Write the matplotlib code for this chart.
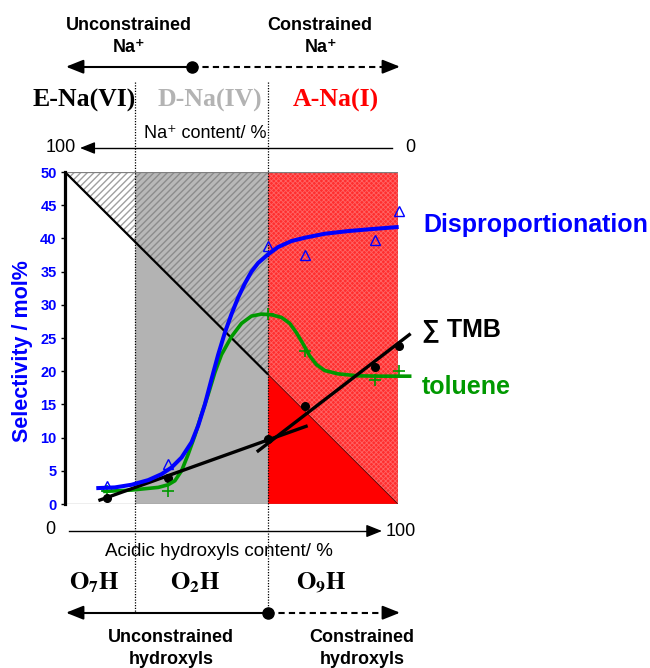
import numpy as np
import matplotlib
matplotlib.use('Agg')
import matplotlib.pyplot as plt
from matplotlib.patches import Polygon, Rectangle
from matplotlib.transforms import blended_transform_factory

plt.rcParams['mathtext.fontset'] = 'stix'

# ---------------- data ----------------
x_pts = [12.5, 31, 61, 72, 93, 100.2]
disp_pts = [2.7, 6.0, 38.8, 37.5, 39.7, 44.2]
tol_pts = [1.9, 2.0, 28.6, 23.1, 18.7, 20.0]
tmb_pts = [0.86, 3.9, 9.8, 14.7, 20.7, 23.8]

disp_curve_x = [10, 15, 20, 25, 29, 32, 35, 38, 40, 42, 44, 46, 48, 50, 52, 54, 56, 58, 61,
                64, 68, 72, 78, 85, 92, 99.6]
disp_curve_y = [2.4, 2.5, 2.9, 3.6, 4.5, 5.5, 7.0, 9.3, 11.8, 15.0, 18.8, 22.5, 25.8, 28.6,
                31.1, 33.2, 35.0, 36.3, 37.6, 38.7, 39.6, 40.1, 40.7, 41.1, 41.4, 41.7]

tol_curve_x = [12, 20, 28, 31, 33, 35, 37, 39, 41, 43, 45, 47, 50, 53, 56, 59, 62, 65, 67.5,
               69.5, 71.5, 73.5, 75.5, 78, 82, 88, 95, 103.5]
tol_curve_y = [1.9, 2.1, 2.5, 2.9, 3.5, 5.0, 7.5, 10.3, 13.5, 16.5, 19.8, 22.5, 25.2, 27.2,
               28.3, 28.6, 28.5, 28.1, 27.2, 25.8, 24.1, 22.3, 21.0, 20.1, 19.6, 19.3, 19.25, 19.25]

tmb_fit1_x = [10.5, 72.4]
tmb_fit1_y = [0.6, 11.7]
tmb_fit2_x = [58, 103.4]
tmb_fit2_y = [8.0, 25.5]

region_edges = [0, 21.1, 61, 100]
diag_x = [0, 100]
diag_y = [50, 0]
yticks = list(range(0, 51, 5))

# ---------------- figure ----------------
W, H = 650, 668
fig = plt.figure(figsize=(W / 100, H / 100), dpi=100)
ax = fig.add_axes([65 / W, (H - 504) / H, 333 / W, 332 / H])
ax.set_xlim(0, 100)
ax.set_ylim(0, 50)

sans = ['Liberation Sans', 'DejaVu Sans']
serif = ['Liberation Serif', 'DejaVu Serif']

lower_colors = ['white', '#b3b3b3', '#ff0000']
upper_face = ['white', '#b8b8b8', '#ff2e2e']
upper_hatch = ['/////', '/////', 'xxxxxxx']
upper_hcol = ['#a0a0a0', '#8c8c8c', '#ff6464']
upper_hlw = [1.0, 1.0, 0.6]

for i in range(3):
    x0, x1 = region_edges[i], region_edges[i + 1]
    y0d = np.interp(x0, diag_x, diag_y)
    y1d = np.interp(x1, diag_x, diag_y)
    low = Polygon([(x0, 0), (x1, 0), (x1, y1d), (x0, y0d)], closed=True,
                  facecolor=lower_colors[i], edgecolor='none', lw=0, zorder=1)
    ax.add_patch(low)
    up_bg = Polygon([(x0, y0d), (x1, y1d), (x1, 50), (x0, 50)], closed=True,
                    facecolor=upper_face[i], edgecolor='none', lw=0, zorder=1)
    ax.add_patch(up_bg)
    up = Polygon([(x0, y0d), (x1, y1d), (x1, 50), (x0, 50)], closed=True,
                 facecolor='none', edgecolor=upper_hcol[i], hatch=upper_hatch[i], lw=0, zorder=1.1)
    if hasattr(up, 'set_hatch_linewidth'):
        up.set_hatch_linewidth(upper_hlw[i])
    ax.add_patch(up)

# diagonal
xm = region_edges[2]
ym = np.interp(xm, diag_x, diag_y)
ax.plot([diag_x[0], xm], [diag_y[0], ym], color='k', lw=1.6, zorder=2,
        solid_capstyle='butt', clip_on=False)
ax.plot([xm, diag_x[1]], [ym, diag_y[1]], color='#500000', lw=0.6, zorder=2)

# box outline
ax.add_patch(Rectangle((0, 0), 100, 50, fill=False, ec='#7f7f7f', lw=0.9, zorder=3))

# dotted vertical separators
bt = blended_transform_factory(ax.transData, fig.transFigure)
for xe in region_edges[1:3]:
    ax.plot([xe, xe], [1 - 82 / H, 1 - 612 / H], transform=bt, color='k',
            lw=0.9, ls=(0, (1, 1.2)), clip_on=False, zorder=3)

# markers
ax.plot(x_pts, disp_pts, ls='none', marker='^', ms=6.5, mfc='none', mec='#0000ff', mew=1.0,
        clip_on=False, zorder=4)
ax.plot(x_pts, tol_pts, ls='none', marker='+', ms=8, mec='#009900', mew=1.2,
        clip_on=False, zorder=4)
ax.plot(x_pts, tmb_pts, ls='none', marker='o', ms=5.5, mfc='k', mec='k',
        clip_on=False, zorder=4)

# curves
ax.plot(disp_curve_x, disp_curve_y, color='#0000ff', lw=2.9, clip_on=False, zorder=6,
        solid_joinstyle='round')
ax.plot(tol_curve_x, tol_curve_y, color='#009900', lw=2.6, clip_on=False, zorder=5,
        solid_joinstyle='round')
ax.plot(tmb_fit1_x, tmb_fit1_y, color='k', lw=2.4, clip_on=False, zorder=5)
ax.plot(tmb_fit2_x, tmb_fit2_y, color='k', lw=2.4, clip_on=False, zorder=5)

# axes styling
for s in ['top', 'right', 'bottom']:
    ax.spines[s].set_visible(False)
ax.spines['left'].set_linewidth(2.3)
ax.spines['left'].set_color('k')
ax.spines['left'].set_zorder(7)
ax.set_xticks([])
ax.set_yticks(yticks)
ax.set_yticklabels([str(v) for v in yticks], color='#0000ff', fontweight='bold',
                   fontsize=10.5, family=sans)
ax.tick_params(axis='y', length=3, width=1, color='k', pad=3)
ax.set_facecolor('none')

# ---------------- overlay (annotations) ----------------
ov = fig.add_axes([0, 0, 1, 1], zorder=5)
ov.set_xlim(0, W)
ov.set_ylim(H, 0)
ov.axis('off')
ov.patch.set_alpha(0)


def head(x_from, x_to, y, ms=20, lw=1.5):
    ov.annotate('', xy=(x_to, y), xytext=(x_from, y),
                arrowprops=dict(arrowstyle='-|>,head_length=0.5,head_width=0.2', color='k',
                                lw=lw, mutation_scale=ms, shrinkA=0, shrinkB=0))


# top arrow
ty = 66.7
ov.plot([70, 192], [ty, ty], color='k', lw=1.5)
ov.plot([192, 390], [ty, ty], color='k', lw=1.5, ls=(0, (3, 2)))
head(80, 66, ty, ms=21)
head(386, 400, ty, ms=21)
ov.plot([192], [ty], 'o', color='k', ms=8)

# Na content axis
ny = 148
ov.plot([84, 392], [ny, ny], color='k', lw=1.0)
head(92, 80, ny, ms=18, lw=1.0)

# acidic hydroxyl axis
ay = 531
ov.plot([69, 372], [ay, ay], color='k', lw=1.0)
head(370, 382, ay, ms=19, lw=1.0)

# bottom arrow
by = 612.7
ov.plot([70, 268], [by, by], color='k', lw=1.5)
ov.plot([268, 390], [by, by], color='k', lw=1.5, ls=(0, (3, 2)))
head(80, 66, by, ms=21)
head(386, 400, by, ms=21)
ov.plot([268], [by], 'o', color='k', ms=8)

# texts
ov.text(129, 25, 'Unconstrained', ha='center', va='center', fontsize=13, fontweight='bold', family=sans)
ov.text(129, 47, 'Na\u207a', ha='center', va='center', fontsize=13, fontweight='bold', family=sans)
ov.text(320, 25, 'Constrained', ha='center', va='center', fontsize=13, fontweight='bold', family=sans)
ov.text(321, 47, 'Na\u207a', ha='center', va='center', fontsize=13, fontweight='bold', family=sans)

ov.text(84, 100, 'E-Na(VI)', ha='center', va='center', fontsize=18.5, fontweight='bold',
        family=serif, color='k')
ov.text(210, 100, 'D-Na(IV)', ha='center', va='center', fontsize=18.5, fontweight='bold',
        family=serif, color='#b3b3b3')
ov.text(336, 100, 'A-Na(I)', ha='center', va='center', fontsize=18.5, fontweight='bold',
        family=serif, color='#ff0000')

ov.text(144, 133, 'Na\u207a content/ %', ha='left', va='center', fontsize=13, family=sans)
ov.text(76, ny, '100', ha='right', va='center', fontsize=13, family=sans)
ov.text(405, ny, '0', ha='left', va='center', fontsize=13, family=sans)

ov.text(50, ay - 1, '0', ha='center', va='center', fontsize=13, family=sans)
ov.text(386, ay, '100', ha='left', va='center', fontsize=13, family=sans)
ov.text(219, 552, 'Acidic hydroxyls content/ %', ha='center', va='center', fontsize=13.5, family=sans)

ov.text(94, 583, r'$\mathbf{O_7H}$', ha='center', va='center', fontsize=18)
ov.text(195, 583, r'$\mathbf{O_2H}$', ha='center', va='center', fontsize=18)
ov.text(321, 583, r'$\mathbf{O_9H}$', ha='center', va='center', fontsize=18)

ov.text(171, 637, 'Unconstrained', ha='center', va='center', fontsize=13, fontweight='bold', family=sans)
ov.text(171, 660, 'hydroxyls', ha='center', va='center', fontsize=13, fontweight='bold', family=sans)
ov.text(362, 637, 'Constrained', ha='center', va='center', fontsize=13, fontweight='bold', family=sans)
ov.text(362, 660, 'hydroxyls', ha='center', va='center', fontsize=13, fontweight='bold', family=sans)

ov.text(23, 351, 'Selectivity / mol%', rotation=90, ha='center', va='center', fontsize=15.5,
        fontweight='bold', color='#0000ff', family=sans)

ov.text(423, 225, 'Disproportionation', ha='left', va='center', fontsize=18, fontweight='bold',
        color='#0000ff', family=sans)
ov.text(422, 330, '\u2211 TMB', ha='left', va='center', fontsize=18, fontweight='bold',
        color='k', family=sans)
ov.text(422, 387, 'toluene', ha='left', va='center', fontsize=18, fontweight='bold',
        color='#009900', family=sans)

fig.savefig('out.png', dpi=100)
